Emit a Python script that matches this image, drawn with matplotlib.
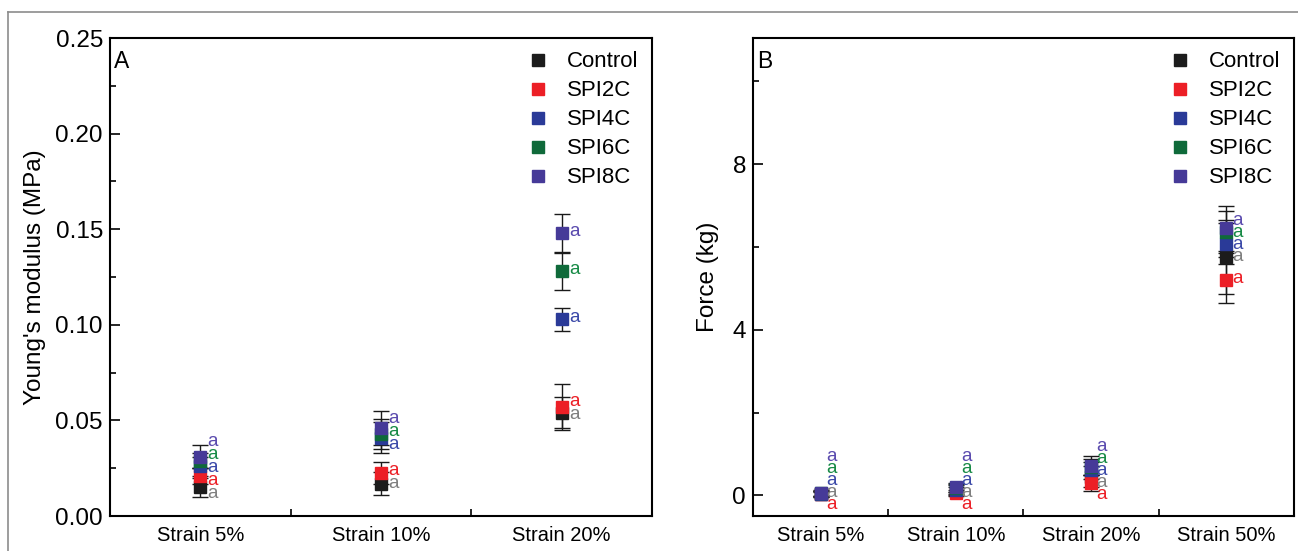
import numpy as np
import matplotlib
matplotlib.use('Agg')
from matplotlib import pyplot as plt
from matplotlib.lines import Line2D
from matplotlib.ticker import MultipleLocator, FixedLocator

plt.rcParams['font.family'] = ['Liberation Sans', 'DejaVu Sans']

## DATA

groups = ['Control', 'SPI2C', 'SPI4C', 'SPI6C', 'SPI8C']
marker_colors = ['#1c1c1c', '#ec1f26', '#2a3a98', '#0f6a3a', '#463a98']
letter_colors = ['#7f7f7f', '#ec1f26', '#3a48a8', '#168a45', '#5a4aae']

strains_a = ['Strain 5%', 'Strain 10%', 'Strain 20%']
modulus = {
    'Control': [0.015, 0.017, 0.054],
    'SPI2C':   [0.021, 0.0225, 0.057],
    'SPI4C':   [0.026, 0.041, 0.103],
    'SPI6C':   [0.029, 0.043, 0.128],
    'SPI8C':   [0.031, 0.046, 0.148],
}
modulus_err = {
    'Control': [0.005, 0.006, 0.008],
    'SPI2C':   [0.004, 0.006, 0.012],
    'SPI4C':   [0.005, 0.008, 0.006],
    'SPI6C':   [0.004, 0.008, 0.0098],
    'SPI8C':   [0.006, 0.009, 0.0097],
}
letters_a = {
    'Control': ['a', 'a', 'a'],
    'SPI2C':   ['a', 'a', 'a'],
    'SPI4C':   ['a', 'a', 'a'],
    'SPI6C':   ['a', 'a', 'a'],
    'SPI8C':   ['a', 'a', 'a'],
}

strains_b = ['Strain 5%', 'Strain 10%', 'Strain 20%', 'Strain 50%']
force = {
    'Control': [0.03, 0.10, 0.45, 5.76],
    'SPI2C':   [0.02, 0.06, 0.30, 5.20],
    'SPI4C':   [0.04, 0.14, 0.60, 6.08],
    'SPI6C':   [0.05, 0.17, 0.68, 6.36],
    'SPI8C':   [0.06, 0.19, 0.72, 6.45],
}
force_err = {
    'Control': [0.08, 0.10, 0.25, 0.89],
    'SPI2C':   [0.06, 0.08, 0.20, 0.55],
    'SPI4C':   [0.06, 0.10, 0.20, 0.50],
    'SPI6C':   [0.06, 0.10, 0.20, 0.50],
    'SPI8C':   [0.07, 0.10, 0.22, 0.55],
}
letters_b = {g: ['a', 'a', 'a', 'a'] for g in groups}

## FUNCTIONS

def spread_labels(values, gap, floor=None, lift=0.0):
    # stack letter positions so they don't overlap, centred on the points
    order = np.argsort(values)
    pos = np.array(values, dtype=float)[order] + lift
    for _ in range(200):
        for i in range(1, len(pos)):
            d = pos[i] - pos[i - 1]
            if d < gap:
                shift = (gap - d) / 2
                pos[i - 1] -= shift
                pos[i] += shift
    if floor is not None and pos[0] < floor:
        pos += floor - pos[0]
    out = np.empty(len(pos))
    out[order] = pos
    return out


def draw_panel(ax, cats, vals, errs, letters, gap, floor, lift):
    x = np.arange(1, len(cats) + 1)
    for i, g in enumerate(groups):
        ax.errorbar(x, vals[g], yerr=errs[g], fmt='s', color=marker_colors[i],
                    mfc=marker_colors[i], mec=marker_colors[i],
                    ecolor='#1a1a1a', elinewidth=1.0, capsize=5.5, capthick=1.0,
                    markersize=8, zorder=3)
    for j in range(len(cats)):
        col = [vals[g][j] for g in groups]
        ys = spread_labels(col, gap, floor, lift)
        for i, g in enumerate(groups):
            ax.text(x[j] + 0.04, ys[i], letters[g][j], color=letter_colors[i],
                    fontsize=13.5, va='center', ha='left', zorder=4)
    ax.set_xlim(0.5, len(cats) + 0.5)
    ax.xaxis.set_major_locator(FixedLocator(np.arange(1.5, len(cats), 1.0)))
    ax.xaxis.set_major_formatter(plt.NullFormatter())
    ax.xaxis.set_minor_locator(FixedLocator(x))
    ax.set_xticklabels(cats, minor=True)
    ax.tick_params(axis='x', which='major', direction='in', length=5, width=1.2)
    ax.tick_params(axis='x', which='minor', length=0, labelsize=14.5, pad=7)
    ax.tick_params(axis='y', which='major', direction='in', length=7, width=1.2,
                   labelsize=17.5, pad=5)
    ax.tick_params(axis='y', which='minor', direction='in', length=4, width=1.2)
    for s in ax.spines.values():
        s.set_linewidth(1.5)
    handles = [Line2D([], [], marker='s', ls='none', color=c, markersize=8)
               for c in marker_colors]
    ax.legend(handles, groups, loc='upper right', frameon=False, fontsize=16, handletextpad=0.8,
              labelspacing=0.36, borderaxespad=0.2, handlelength=1.0)


## MAIN

fig = plt.figure(figsize=(12.98, 5.51), dpi=100)
axA = fig.add_axes([0.0847, 0.0635, 0.4176, 0.8675])
axB = fig.add_axes([0.5801, 0.0635, 0.4168, 0.8675])

draw_panel(axA, strains_a, modulus, modulus_err, letters_a, 0.0068, None, 0.0008)
axA.set_ylim(0, 0.25)
axA.yaxis.set_major_locator(MultipleLocator(0.05))
axA.yaxis.set_minor_locator(MultipleLocator(0.025))
axA.yaxis.set_major_formatter(plt.FormatStrFormatter('%.2f'))
axA.set_ylabel("Young's modulus (MPa)", fontsize=17.5, labelpad=7)
axA.text(0.008, 0.975, 'A', transform=axA.transAxes, fontsize=16.5, va='top', ha='left')

draw_panel(axB, strains_b, force, force_err, letters_b, 0.29, -0.22, 0.05)
axB.set_ylim(-0.5, 11.05)
axB.yaxis.set_major_locator(FixedLocator([0, 4, 8]))
axB.yaxis.set_minor_locator(FixedLocator([2, 6, 10]))
axB.set_ylabel('Force (kg)', fontsize=17.5, labelpad=10)
axB.text(0.008, 0.975, 'B', transform=axB.transAxes, fontsize=16.5, va='top', ha='left')

# thin grey outer frame (left and top edges visible in the crop)
fig.add_artist(Line2D([8 / 1298, 8 / 1298], [0, 1 - 12 / 551], transform=fig.transFigure,
                      color='#8c8c8c', lw=1.2))
fig.add_artist(Line2D([8 / 1298, 1], [1 - 12 / 551, 1 - 12 / 551], transform=fig.transFigure,
                      color='#8c8c8c', lw=1.2))

fig.savefig('out.png', dpi=100)
